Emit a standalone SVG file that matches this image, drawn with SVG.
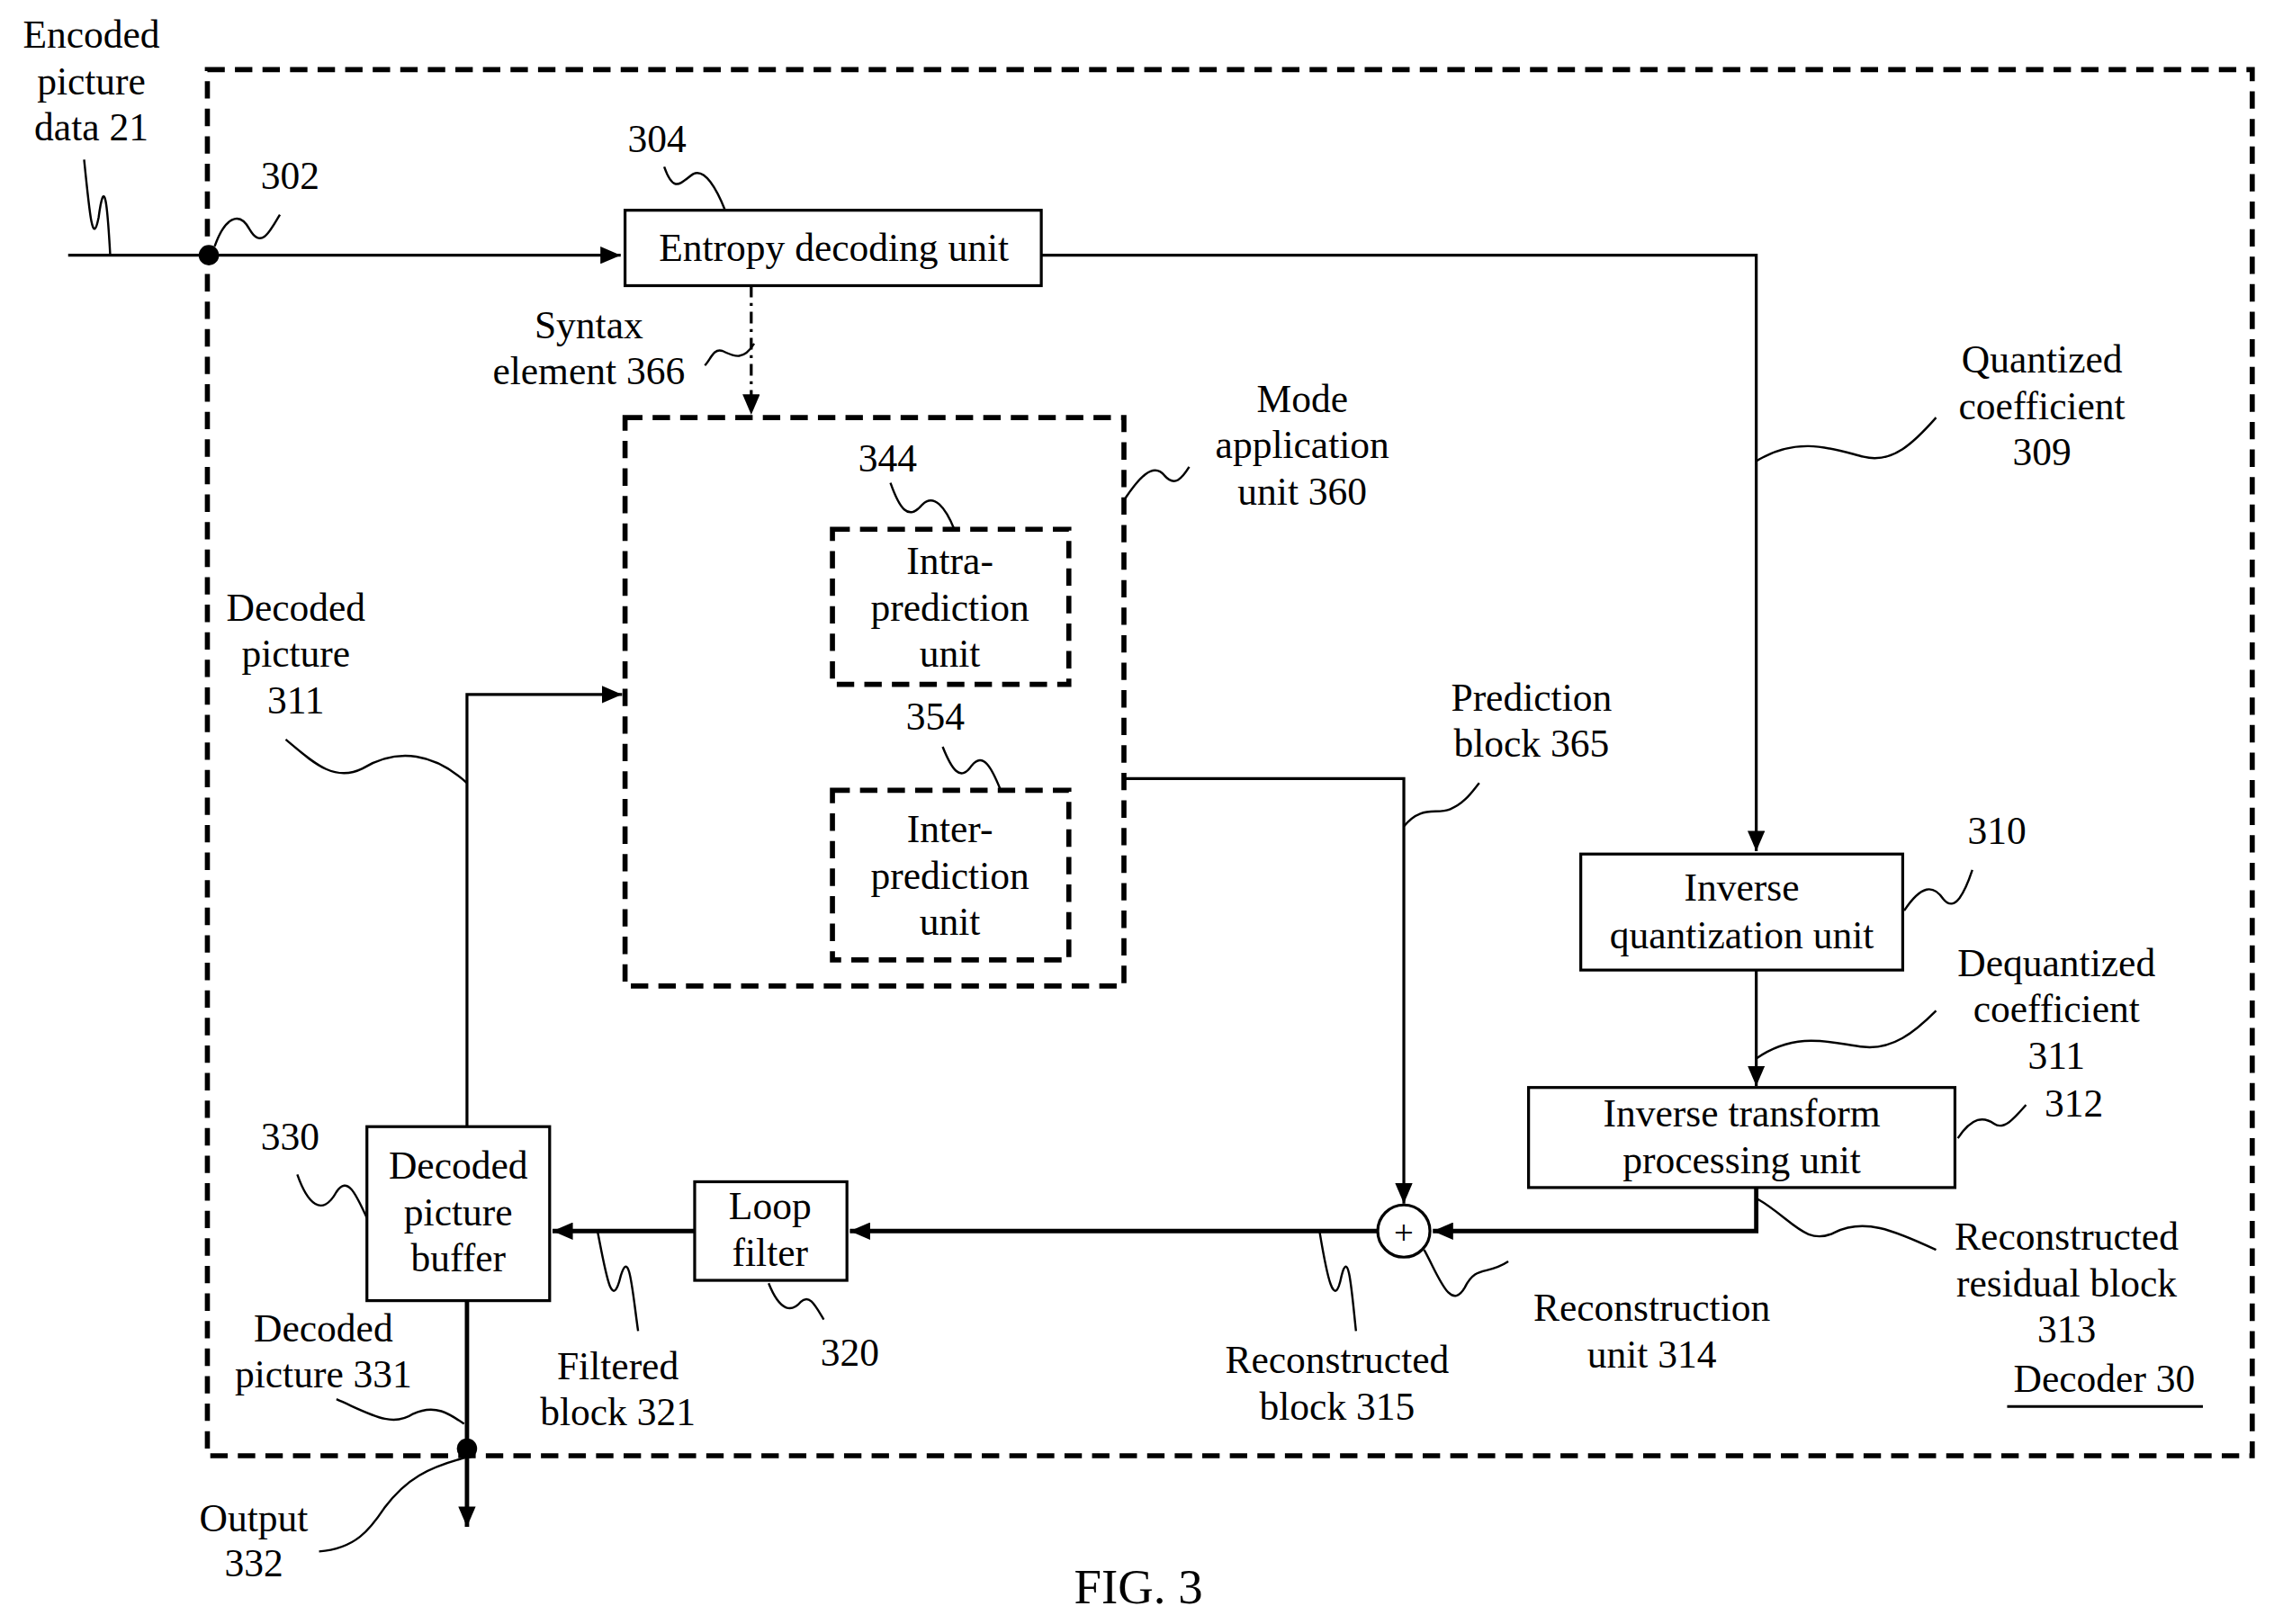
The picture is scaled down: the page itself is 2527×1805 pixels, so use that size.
<svg xmlns="http://www.w3.org/2000/svg" width="2527" height="1805" viewBox="0 0 2527 1805">
<style>
text{font-family:"Liberation Serif","Times New Roman",serif;font-size:27px;fill:#000;text-anchor:middle}
.b{fill:#fff;stroke:#000;stroke-width:2}
.d{fill:none;stroke:#000;stroke-width:3.5;stroke-dasharray:12 7}
.l{fill:none;stroke:#000;stroke-width:2}
.t{fill:none;stroke:#000;stroke-width:3}
.s{fill:none;stroke:#000;stroke-width:1.5}
</style>
<defs><marker id="a" markerWidth="8" markerHeight="8" refX="7" refY="4" orient="auto" markerUnits="userSpaceOnUse"><path d="M0,0L8,4L0,8z" transform="scale(1)"/></marker>
<marker id="A" viewBox="0 0 14 12" markerWidth="14" markerHeight="12" refX="14" refY="6" orient="auto" markerUnits="userSpaceOnUse"><path d="M0,0L14,6L0,12z"/></marker></defs>
<rect width="2527" height="1805" fill="#fff"/>
<g transform="scale(1.6116)">
<rect x="143" y="48" width="1410" height="956" class="d" stroke-width="3"/>
<g id="connectors">
<path class="l" d="M47,176H428" marker-end="url(#A)"/>
<circle cx="144" cy="176" r="7"/>
<path class="l" d="M718,176H1211V587" marker-end="url(#A)"/>
<path class="l" d="M518,197V286" stroke-dasharray="8 4 2 4" marker-end="url(#A)"/>
<path class="l" d="M775,537H968V830" marker-end="url(#A)"/>
<path class="l" d="M1211,669V749" marker-end="url(#A)"/>
<path class="t" d="M1211,819V849H988" marker-end="url(#A)"/>
<path class="t" d="M950,849H586" marker-end="url(#A)"/>
<path class="t" d="M479,849H381" marker-end="url(#A)"/>
<path class="l" d="M322,777V479H429" marker-end="url(#A)"/>
<path class="t" d="M322,897V1053" marker-end="url(#A)"/>
<circle cx="322" cy="999" r="7"/>
<g class="s">
<path d="M58,110C62,150 64,170 68,150C72,120 74,140 76,176"/>
<path d="M148,170C155,150 165,145 172,158C180,172 186,160 193,148"/>
<path d="M458,115C465,135 470,125 478,120C486,116 494,130 500,145"/>
<path d="M520,237C512,250 505,245 498,242C492,240 490,248 486,252"/>
<path d="M775,345C785,330 795,318 803,328C810,336 815,330 820,322"/>
<path d="M614,333C620,350 626,360 636,348C644,340 652,350 658,365"/>
<path d="M650,515C656,530 662,540 670,528C678,518 684,530 690,545"/>
<path d="M968,570C980,555 990,562 1000,558C1010,554 1015,546 1020,540"/>
<path d="M1211,318C1240,300 1265,310 1285,315C1305,320 1320,305 1335,288"/>
<path d="M1313,628C1325,610 1333,610 1340,620C1348,630 1355,615 1360,600"/>
<path d="M1211,730C1240,710 1265,720 1285,722C1305,724 1320,712 1335,697"/>
<path d="M1350,785C1360,770 1368,770 1375,775C1382,780 1390,770 1397,762"/>
<path d="M1212,827C1235,840 1245,860 1265,850C1285,840 1305,848 1335,862"/>
<path d="M982,862C992,880 1000,905 1010,888C1018,872 1025,880 1040,870"/>
<path d="M910,850C915,880 920,905 925,880C930,860 932,890 935,918"/>
<path d="M530,885C538,905 546,905 552,898C558,892 562,900 568,910"/>
<path d="M412,849C418,880 422,905 428,880C434,860 436,890 440,918"/>
<path d="M205,810C212,830 222,840 232,822C240,810 246,825 253,840"/>
<path d="M197,510C215,525 230,540 250,530C275,515 300,520 322,540"/>
<path d="M232,965C255,975 270,985 285,975C300,968 310,975 320,982"/>
<path d="M220,1070C245,1068 255,1055 265,1040C280,1020 295,1012 322,1005"/>
</g>
</g>
<g id="entropy"><rect x="431" y="145" width="287" height="52" class="b"/><text x="575" y="180">Entropy decoding unit</text></g>
<g id="mode"><rect x="431" y="288" width="344" height="392" class="d"/></g>
<g id="intra"><rect x="574" y="365" width="163" height="107" class="d"/><text x="655" y="396">Intra-</text><text x="655" y="428">prediction</text><text x="655" y="460">unit</text></g>
<g id="inter"><rect x="574" y="545" width="163" height="117" class="d"/><text x="655" y="581">Inter-</text><text x="655" y="613">prediction</text><text x="655" y="645">unit</text></g>
<g id="invq"><rect x="1090" y="589" width="222" height="80" class="b"/><text x="1201" y="621">Inverse</text><text x="1201" y="654">quantization unit</text></g>
<g id="invt"><rect x="1054" y="750" width="294" height="69" class="b"/><text x="1201" y="777">Inverse transform</text><text x="1201" y="809">processing unit</text></g>
<g id="recon"><circle cx="968" cy="849" r="18" class="b"/><text x="968" y="858" style="font-size:24px">+</text></g>
<g id="loop"><rect x="479" y="815" width="105" height="68" class="b"/><text x="531" y="841">Loop</text><text x="531" y="873">filter</text></g>
<g id="dpb"><rect x="253" y="777" width="126" height="120" class="b"/><text x="316" y="813">Decoded</text><text x="316" y="845">picture</text><text x="316" y="877">buffer</text></g>
<g id="labels">
<text x="63" y="33">Encoded</text><text x="63" y="65">picture</text><text x="63" y="97">data 21</text>
<text x="200" y="130">302</text><text x="453" y="105">304</text>
<text x="406" y="233">Syntax</text><text x="406" y="265">element 366</text>
<text x="898" y="284">Mode</text><text x="898" y="316">application</text><text x="898" y="348">unit 360</text>
<text x="612" y="325">344</text><text x="645" y="503">354</text>
<text x="1056" y="490">Prediction</text><text x="1056" y="522">block 365</text>
<text x="1408" y="257">Quantized</text><text x="1408" y="289">coefficient</text><text x="1408" y="321">309</text>
<text x="1377" y="582">310</text>
<text x="1418" y="673">Dequantized</text><text x="1418" y="705">coefficient</text><text x="1418" y="737">311</text>
<text x="1430" y="770">312</text>
<text x="1425" y="862">Reconstructed</text><text x="1425" y="894">residual block</text><text x="1425" y="926">313</text>
<text x="1451" y="960">Decoder 30</text><path class="l" d="M1384,970H1519"/>
<text x="1139" y="911">Reconstruction</text><text x="1139" y="943">unit 314</text>
<text x="922" y="947">Reconstructed</text><text x="922" y="979">block 315</text>
<text x="586" y="942">320</text>
<text x="426" y="951">Filtered</text><text x="426" y="983">block 321</text>
<text x="200" y="793">330</text>
<text x="204" y="428">Decoded</text><text x="204" y="460">picture</text><text x="204" y="492">311</text>
<text x="223" y="925">Decoded</text><text x="223" y="957">picture 331</text>
<text x="175" y="1056">Output</text><text x="175" y="1087">332</text>
<text x="785" y="1106" style="font-size:34px">FIG. 3</text>
</g>
</g>
</svg>
